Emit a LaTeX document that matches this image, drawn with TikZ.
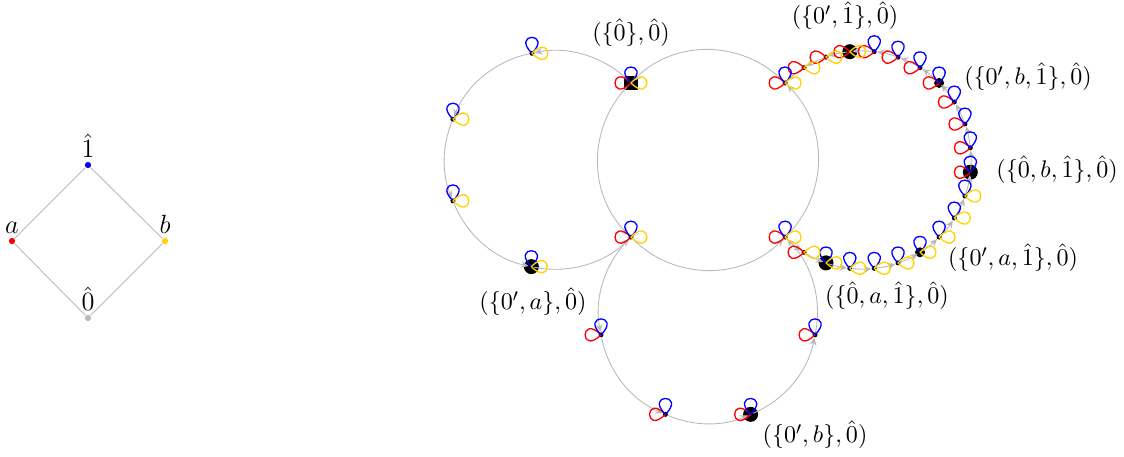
\documentclass[tikz,border=0pt]{standalone}
\usetikzlibrary{positioning,arrows.meta}
\definecolor{gold}{RGB}{255,210,0}
\definecolor{edgegray}{RGB}{185,185,185}
\tikzset{
  vtx/.style={circle,fill=black,inner sep=0pt,minimum size=0.8mm},
  bigvtx/.style={circle,fill=black,inner sep=0pt,minimum size=2.4mm},
  midvtx/.style={circle,fill=black,inner sep=0pt,minimum size=1.6mm},
  sqvtx/.style={rectangle,fill=black,inner sep=0pt,minimum size=2.2mm},
  hdot/.style={circle,inner sep=0pt,minimum size=1mm},
  hlbl/.style={inner sep=1pt,font=\large},
  tag/.style={font=\fontsize{10.95}{13.6}\selectfont},
  hasse/.style={edgegray},
  flow/.style={edgegray,->},
  rloop/.style={red,line width=0.6pt,to path={.. controls +(135:30) and +(225:30) .. (\tikztotarget)}},
  bloop/.style={blue,line width=0.6pt,to path={.. controls +(45:30) and +(135:30) .. (\tikztotarget)}},
  yloop/.style={gold,line width=0.6pt,to path={.. controls +(-45:30) and +(45:30) .. (\tikztotarget)}},
}
\begin{document}
\begin{tikzpicture}[x=0.16mm,y=0.16mm,>={Stealth[length=1.2mm,width=1.1mm]},line width=0.4pt]
\useasboundingbox (0,0) rectangle (1124,456);
% the lattice
\node[hdot,fill=blue] (h1) at (88,291) {};
\node[hdot,fill=red] (ha) at (12,215) {};
\node[hdot,fill=gold] (hb) at (165,215) {};
\node[hdot,fill=edgegray] (h0) at (88,138) {};
\draw[hasse] (h0) -- (ha) -- (h1) -- (hb) -- (h0);
\node[hlbl,above=0.5pt of h1] (lh1) {$\hat{1}$};
\node[hlbl,above=0.5pt of ha] (lha) {$a$};
\node[hlbl,above=0.5pt of hb] (lhb) {$b$};
\node[hlbl,above=0.5pt of h0] (lh0) {$\hat{0}$};
% centres of the four cycles
\coordinate (cM) at (708,296);
\coordinate (cL) at (554,296);
\coordinate (cR) at (862,296);
\coordinate (cB) at (708,142);
% vertices
\node[vtx,alias=r0] (m1) at ([shift={(45:109)}]cM) {};
\node[vtx] (m2) at ([shift={(135:109)}]cM) {};
\node[vtx] (m3) at ([shift={(225:109)}]cM) {};
\node[vtx,alias=r21] (m4) at ([shift={(315:109)}]cM) {};
\foreach \n/\a in {l1/101.7,l2/158,l3/202,l4/258}
  \node[vtx] (\n) at ([shift={(\a:109)}]cL) {};
\foreach \n/\a in {b1/191,b2/247,b3/293,b4/349}
  \node[vtx] (\n) at ([shift={(\a:109)}]cB) {};
\foreach \k in {1,...,20}
  \node[vtx] (r\k) at ([shift={({135-\k*270/21}:109)}]cR) {};
\node[sqvtx] (sq) at (m2) {};
\foreach \n in {l4,b3,r3,r11,r19}
  \node[bigvtx] (big\n) at (\n) {};
\foreach \n in {r7,r15}
  \node[midvtx] (med\n) at (\n) {};
% edges
\foreach \s/\t in {m1/m2,m2/m3,m3/m4,m4/m1}
  \draw[flow] (\s) to[bend right=45] (\t);
\foreach \s/\t/\b in {m2/l1/28,l1/l2/28,l2/l3/22,l3/l4/28,l4/m3/28,
                      m3/b1/28,b1/b2/28,b2/b3/23,b3/b4/28,b4/m4/28}
  \draw[flow,looseness=0.9] (\s) to[bend right=\b] (\t);
\foreach \k in {0,...,20}{
  \pgfmathtruncatemacro{\i}{\k+1}
  \draw[flow,looseness=0.85] (r\i) to[bend right=6.4] (r\k);
}
% self-loops
\foreach \v in {m1,m2,m3,m4,b1,b2,b3,b4,r20}
  \draw[rloop] (\v.center) to (\v.center);
\foreach \k in {1,...,11}
  \draw[rloop] (r\k.center) to (r\k.center);
\foreach \v in {m1,m2,m3,m4,l1,l2,l3,l4,b1,b2,b3,b4}
  \draw[bloop] (\v.center) to (\v.center);
\foreach \k in {4,...,19}
  \draw[bloop] (r\k.center) to (r\k.center);
\foreach \v in {m1,m2,m3,m4,l1,l2,l3,l4,r1,r2,r3,r20}
  \draw[yloop] (\v.center) to (\v.center);
\foreach \k in {12,...,19}
  \draw[yloop] (r\k.center) to (r\k.center);
% labels
\node[tag] (t1) at (631,423) {$(\{\hat{0}\},\hat{0})$};
\node[tag] (t2) at (845,440) {$(\{0',\hat{1}\},\hat{0})$};
\node[tag] (t3) at (1028,379) {$(\{0',b,\hat{1}\},\hat{0})$};
\node[tag] (t4) at (1057,286) {$(\{\hat{0},b,\hat{1}\},\hat{0})$};
\node[tag] (t5) at (1013,198) {$(\{0',a,\hat{1}\},\hat{0})$};
\node[tag] (t6) at (887,160) {$(\{\hat{0},a,\hat{1}\},\hat{0})$};
\node[tag] (t7) at (533,154) {$(\{0',a\},\hat{0})$};
\node[tag] (t8) at (815,21) {$(\{0',b\},\hat{0})$};
\end{tikzpicture}
\end{document}
